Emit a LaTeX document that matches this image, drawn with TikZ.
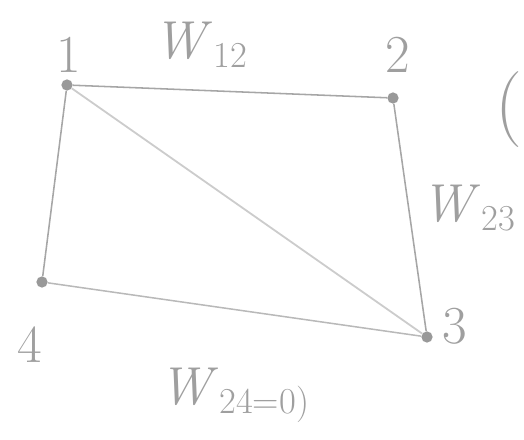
\documentclass[tikz,border=0pt]{standalone}
\usetikzlibrary{calc, positioning}

\newcommand{\wsub}[1]{\textit{W}\kern1pt\raisebox{-0.4ex}{\fontsize{26}{28}\selectfont #1}}

\tikzset{
  pencil/.style={draw=gray!70, line width=1.1pt},
  faint/.style={draw=gray!40, line width=1.3pt},
  vtx/.style={circle, fill=gray!80, inner sep=0pt, minimum size=8pt},
  hand/.style={text=gray!75, font=\fontsize{38}{42}\selectfont}
}

\begin{document}
\begin{tikzpicture}[x=0.025cm, y=-0.025cm]
\useasboundingbox (0,0) rectangle (524,439);

\node[vtx] (v1) at (67,85) {};
\node[vtx] (v2) at (393,98) {};
\node[vtx] (v3) at (427,337) {};
\node[vtx] (v4) at (42,282) {};

\draw[pencil] (v1) -- (v2);
\draw[pencil] (v2) -- (v3);
\draw[pencil] (v1) -- (v4);
\draw[pencil, draw=gray!55] (v4) -- (v3);
\draw[faint] (v1) -- (v3);

\node[hand] (l1) at (69,55) {1};
\node[hand] (l2) at (398,55) {2};
\node[hand] (l3) at (455,326) {3};
\node[hand] (l4) at (30,345) {4};

\node[hand] (w12) at (200,45) {\wsub{12}};
\node[hand] (w23) at (468,208) {\wsub{23}};
\node[hand] (w24) at (234,395) {\wsub{24=0)}};
\node[hand, font=\fontsize{54}{58}\selectfont, inner sep=0pt] (par) at (509,110) {(};
\end{tikzpicture}
\end{document}
